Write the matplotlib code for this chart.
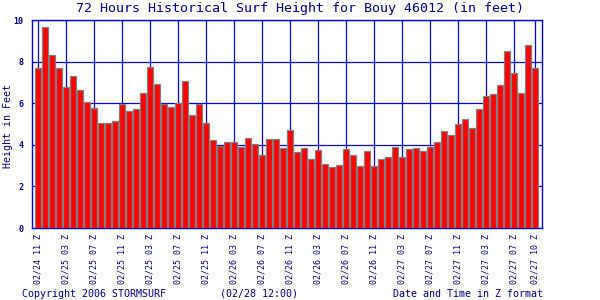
import matplotlib
matplotlib.use("Agg")
import matplotlib.pyplot as plt

heights = [7.68, 9.65, 8.30, 7.68, 6.77, 7.30, 6.62, 6.05, 5.76, 5.04,
           5.04, 5.14, 5.95, 5.62, 5.71, 6.48, 7.73, 6.91, 5.95, 5.81,
           6.00, 7.06, 5.42, 5.95, 5.04, 4.22, 3.94, 4.13, 4.13, 3.89,
           4.32, 4.03, 3.50, 4.27, 4.27, 3.84, 4.70, 3.65, 3.84, 3.31,
           3.74, 3.07, 2.93, 3.02, 3.79, 3.50, 2.98, 3.70, 2.98, 3.31,
           3.41, 3.89, 3.41, 3.79, 3.84, 3.70, 3.89, 4.13, 4.66, 4.46,
           4.99, 5.23, 4.80, 5.71, 6.34, 6.43, 6.86, 8.50, 7.44, 6.48,
           8.78, 7.68]
tick_pos = [0, 4, 8, 12, 16, 20, 24, 28, 32, 36, 40, 44, 48, 52, 56, 60, 64, 68, 71]
tick_labels = ["02/24 11 Z", "02/25 03 Z", "02/25 07 Z", "02/25 11 Z", "02/25 03 Z",
               "02/25 07 Z", "02/25 11 Z", "02/26 03 Z", "02/26 07 Z", "02/26 11 Z",
               "02/26 03 Z", "02/26 07 Z", "02/26 11 Z", "02/27 03 Z", "02/27 07 Z",
               "02/27 11 Z", "02/27 03 Z", "02/27 07 Z", "02/27 10 Z"]
y_ticks = [0, 2, 4, 6, 8, 10]

navy = "#000080"
blue = "#0000cc"
plt.rcParams['font.family'] = ['DejaVu Sans Mono']

fig = plt.figure(figsize=(6, 3), dpi=100)
ax = fig.add_axes([0.0528, 0.24, 0.8505, 0.6933])

ax.bar(range(len(heights)), heights, width=0.88, color="#ff0000",
       edgecolor="#808080", linewidth=0.9, zorder=3)

ax.set_xlim(-0.95, len(heights) - 0.05)
ax.set_ylim(0, 10)
ax.set_xticks(tick_pos)
ax.set_xticklabels(tick_labels, rotation=90, fontsize=6, color=navy)
ax.set_yticks(y_ticks)
ax.set_yticklabels([str(v) for v in y_ticks], fontsize=6, color=navy, fontweight="bold")
ax.tick_params(axis="x", length=0, pad=4)
ax.tick_params(axis="y", length=0, pad=6)
ax.grid(True, color=blue, linewidth=0.9, zorder=0)
ax.set_axisbelow(True)
for s in ax.spines.values():
    s.set_color(blue)
    s.set_linewidth(1.0)

fig.text(8 / 600, 0.58, "Height in Feet", rotation=90, ha="center", va="center",
         fontsize=7.2, color=navy)
fig.text(0.5, 0.973, "72 Hours Historical Surf Height for Bouy 46012 (in feet)",
         ha="center", va="center", fontsize=9.6, color=navy)
fig.text(22 / 600, 0.02, "Copyright 2006 STORMSURF", ha="left", va="center",
         fontsize=7.2, color=navy)
fig.text(220 / 600, 0.02, "(02/28 12:00)", ha="left", va="center",
         fontsize=7.2, color=navy)
fig.text(543 / 600, 0.02, "Date and Time in Z format", ha="right", va="center",
         fontsize=7.2, color=navy)

fig.savefig("out.png", dpi=100)
